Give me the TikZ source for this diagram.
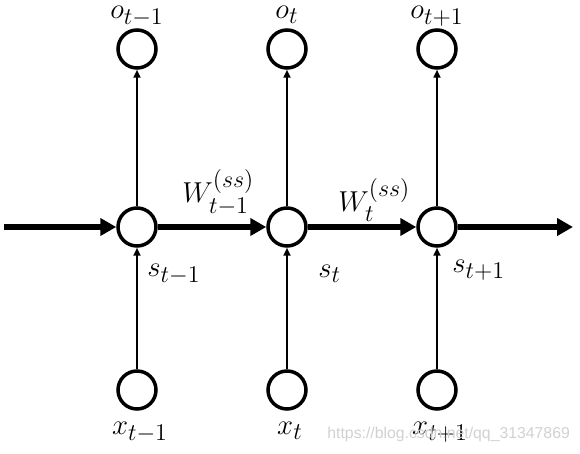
\documentclass[tikz,border=0pt]{standalone}
\usepackage{amsmath,amssymb}
\usepackage{xcolor}
\usepackage{fontspec}
\usepackage{tikz}
\usetikzlibrary{arrows.meta,positioning}
\newfontfamily\wmfont{Liberation Sans}
\DeclareMathSizes{15}{15}{12}{9}

\begin{document}
\begin{tikzpicture}[x=0.5pt, y=-0.5pt,
      unit/.style={draw, circle, line width=1.75pt, minimum size=19pt, inner sep=0pt},
      lbl/.style={inner sep=0pt, font=\fontsize{15}{17}\selectfont},
      recur/.style={-{Triangle[length=8pt,width=8.5pt]}, line width=3.2pt},
      feed/.style={-{Triangle[length=4pt,width=3.5pt]}, line width=1pt}]
    \useasboundingbox (0,0) rectangle (580,454);
    \foreach \i/\x/\s in {1/137/{t-1},2/287/t,3/437/{t+1}} {
      \node[unit] (o\i) at (\x,49) {};
      \node[unit] (s\i) at (\x,227) {};
      \node[unit] (x\i) at (\x,390) {};
      \node[lbl, anchor=base] (ol\i) at (\x,19) {$o_{\s}$};
      \node[lbl, anchor=base] (xl\i) at (\x+3,435) {$x_{\s}$};
      \draw[feed] (x\i) -- (s\i);
      \draw[feed] (s\i) -- (o\i);
    }
    \node[lbl, anchor=base west] (sl1) at (147,277) {$s_{t-1}$};
    \node[lbl, anchor=base west] (sl2) at (318,278) {$s_{t}$};
    \node[lbl, anchor=base west] (sl3) at (452,273) {$s_{t+1}$};
    \node[lbl, anchor=base west] (w1) at (182,203) {$W_{t-1}^{(ss)}$};
    \node[lbl, anchor=base west] (w2) at (338,212) {$W_{t}^{(ss)}$};
    \coordinate (in) at (4,227);
    \coordinate (out) at (573,227);
    \draw[recur] (in) -- (s1);
    \draw[recur] (s1) -- (s2);
    \draw[recur] (s2) -- (s3);
    \draw[recur] (s3) -- (out);
    % watermark
    \node[inner sep=0pt, anchor=base west, text=black!18, font=\wmfont\fontsize{7.9}{9}\selectfont] (wm) at (327,439) {https://blog.csdn.net/qq\_31347869};
  \end{tikzpicture}
\end{document}
